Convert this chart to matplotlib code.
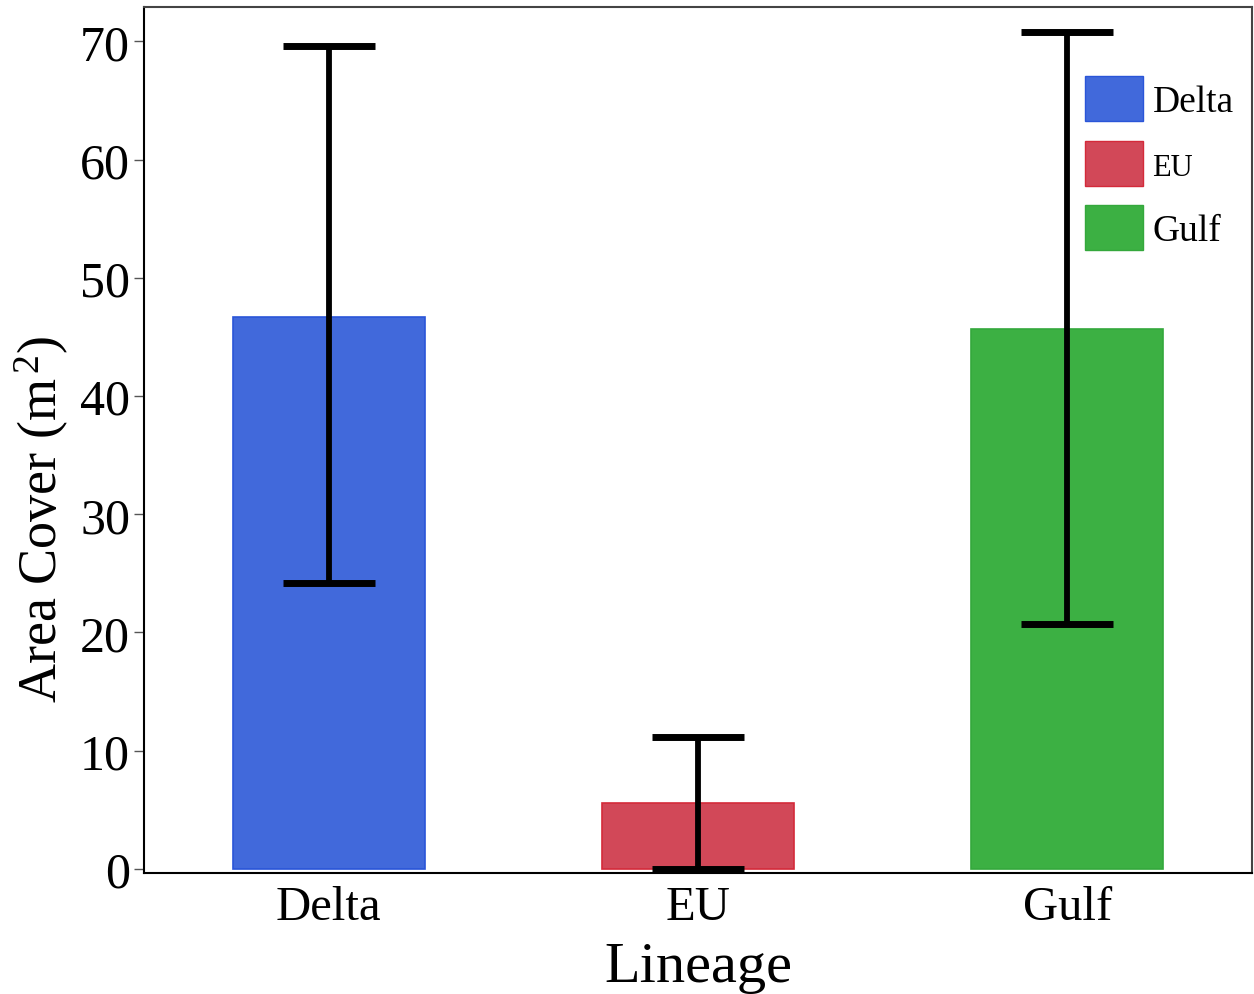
import matplotlib
matplotlib.use("Agg")
import matplotlib.pyplot as plt
from matplotlib.patches import Patch

categories = ["Delta", "EU", "Gulf"]
means = [46.7, 5.6, 45.7]
err_low = [24.2, 0.0, 20.7]
err_high = [69.6, 11.2, 70.8]
colors = ["#4169DB", "#D24858", "#3CB043"]
edges = ["#2A55D8", "#D42A3A", "#34A83C"]
yticks = [0, 10, 20, 30, 40, 50, 60, 70]

plt.rcParams['font.family'] = ['Liberation Serif', 'DejaVu Serif']
plt.rcParams['mathtext.fontset'] = 'custom'
plt.rcParams['mathtext.rm'] = 'Liberation Serif'
plt.rcParams['mathtext.it'] = 'Liberation Serif:italic'

fig = plt.figure(figsize=(12.54, 9.95), dpi=100)
ax = fig.add_axes([144/1254, 1-874/995, (1252-144)/1254, (874-8)/995])

x = list(range(len(categories)))
ax.bar(x, means, width=0.52, color=colors, edgecolor=edges, linewidth=1.2, zorder=2)
lower = [m - l for m, l in zip(means, err_low)]
upper = [h - m for m, h in zip(means, err_high)]
ax.errorbar(x, means, yerr=[lower, upper], fmt='none', ecolor='black',
            elinewidth=4.2, capsize=33, capthick=5, zorder=3)

ax.set_xlim(-0.5, 2.5)
ax.set_ylim(-0.34, 72.9)
ax.set_yticks(yticks)
ax.set_yticklabels([str(t) for t in yticks], fontsize=36)
ax.set_xticks(x)
ax.set_xticklabels(categories, fontsize=35)
ax.tick_params(axis='x', length=0, pad=9)
ax.tick_params(axis='y', length=7, width=1, color='#555555', pad=3)

ax.set_ylabel("Area Cover (m$\\mathregular{^{\\,2}}$)", fontsize=39)
ax.yaxis.set_label_coords(-0.066, 0.41)
ax.set_xlabel("Lineage", fontsize=42, labelpad=8)

for s in ['left', 'bottom']:
    ax.spines[s].set_color('black')
    ax.spines[s].set_linewidth(1.5)
for s in ['top', 'right']:
    ax.spines[s].set_color('#444444')
    ax.spines[s].set_linewidth(1.5)

handles = [Patch(facecolor=c, edgecolor=e, linewidth=1) for c, e in zip(colors, edges)]
leg = ax.legend(handles, categories, loc='upper left',
                bbox_to_anchor=(1085/1254, 1-77/995), bbox_transform=fig.transFigure,
                frameon=False, fontsize=27, handlelength=1.55, handleheight=1.47,
                labelspacing=0.52, handletextpad=0.25, borderpad=0, borderaxespad=0)
leg.get_texts()[1].set_fontsize(22)

fig.savefig("out.png", dpi=100)
